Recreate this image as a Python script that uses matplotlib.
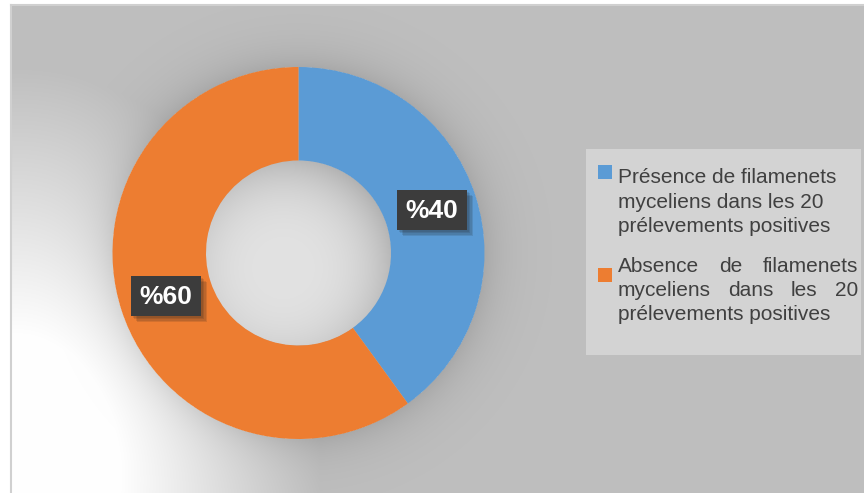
import numpy as np
import matplotlib
matplotlib.use("Agg")
import matplotlib.pyplot as plt
from matplotlib.patches import Rectangle
from matplotlib import patheffects as pe

plt.rcParams['font.family'] = ['Liberation Sans', 'DejaVu Sans']

W, H = 864, 493
shares = [40, 60]
pct_labels = ["%40", "%60"]
colors = ["#5b9bd5", "#ed7d31"]
legend_lines = [
    ["Présence de filamenets", "myceliens dans les 20", "prélevements positives"],
    ["Absence de filamenets", "myceliens dans les 20", "prélevements positives"],
]

CX, CY, R_OUT, R_IN = 298.5, 253, 186, 92.5   # donut geometry, px from top-left

fig = plt.figure(figsize=(W / 100, H / 100), dpi=100)
fig.patch.set_facecolor("white")

def fx(x): return x / W
def fy(y): return 1 - y / H

# ---- chart area background: gray with a white glow bottom-left and a soft halo ----
x0, y0 = 11, 5
yy, xx = np.mgrid[y0:H, x0:W].astype(float) + 0.5
bg = np.full(xx.shape, 191.0)
d = np.hypot((xx - 20) / 300, (yy - 470) / 400)
bg += 64 * np.clip(1.5 * (1 - d), 0, 1)
r = np.hypot(xx - CX, yy - CY)
halo = np.where(r > R_OUT, 22 * np.exp(-(r - R_OUT) / 22), 0)
bg -= halo
hole = r < R_IN
rh = np.hypot(xx - CX + 15, yy - CY - 15) / R_IN
bg[hole] = (226 - 26 * np.clip(rh, 0, 1.3) ** 3)[hole]
bg = np.clip(bg, 0, 255) / 255
bax = fig.add_axes([fx(x0), 0, fx(W - x0), fy(y0)])
bax.imshow(np.dstack([bg, bg, bg]), aspect="auto", interpolation="bilinear",
           extent=[0, 1, 0, 1])
bax.set_axis_off()
# light frame on left and top edges
fig.add_artist(plt.Line2D([fx(x0), fx(x0)], [0, fy(y0)], color="#d0d0d0", lw=1.5))
fig.add_artist(plt.Line2D([fx(x0), 1], [fy(y0), fy(y0)], color="#d0d0d0", lw=1.5))

# ---- donut ----
ax = fig.add_axes([fx(CX - R_OUT), fy(CY + R_OUT), fx(2 * R_OUT), 2 * R_OUT / H])
ax.pie(shares, colors=colors, startangle=90, counterclock=False, radius=1,
       wedgeprops=dict(width=1 - R_IN / R_OUT, linewidth=0))
ax.set_xlim(-1, 1); ax.set_ylim(-1, 1); ax.set_aspect("auto")
ax.set_axis_off()

# ---- percentage tags (soft drop shadow built from stacked offsets) ----
tag_centers = [(432, 210), (166, 296)]
soft_shadow = [pe.SimplePatchShadow(offset=(o, -o), alpha=0.13, shadow_rgbFace="#202020")
               for o in (4.5, 3.5, 2.5, 1.5)]
for lab, (tx, ty) in zip(pct_labels, tag_centers):
    box = Rectangle((fx(tx - 35), fy(ty + 20)), fx(70), 40 / H, transform=fig.transFigure,
                    facecolor="#3c3c3c", edgecolor="none", zorder=5)
    box.set_path_effects(soft_shadow + [pe.Normal()])
    fig.add_artist(box)
    fig.text(fx(tx), fy(ty + 1), lab, color="white", fontsize=19, fontweight="bold",
             ha="center", va="center", zorder=6)

# ---- legend ----
fig.add_artist(Rectangle((fx(586), fy(355)), fx(861 - 586), (355 - 149) / H,
                         transform=fig.transFigure, facecolor="#d3d3d3", edgecolor="none"))
marker_tops = [165, 268]
line_ys = [[177, 203, 227], [266, 291, 315]]
justify = [False, True]
TX0, TX1 = 618, 858
fig.canvas.draw()
rend = fig.canvas.get_renderer()
for col, mt, lines, ys, just in zip(colors, marker_tops, legend_lines, line_ys, justify):
    fig.add_artist(Rectangle((fx(598), fy(mt + 14)), fx(14), 14 / H,
                             transform=fig.transFigure, facecolor=col, edgecolor="none"))
    for k, (line, ly) in enumerate(zip(lines, ys)):
        if not just or k == len(lines) - 1:
            fig.text(fx(TX0), fy(ly), line, fontsize=15, color="#404040", ha="left", va="center")
            continue
        words = line.split()
        widths = []
        for w in words:
            t = fig.text(0, 0, w, fontsize=15)
            widths.append(t.get_window_extent(rend).width)
            t.remove()
        gap = (TX1 - TX0 - sum(widths)) / (len(words) - 1)
        xpos = TX0
        for w, wd in zip(words, widths):
            fig.text(fx(xpos), fy(ly), w, fontsize=15, color="#404040", ha="left", va="center")
            xpos += wd + gap

fig.savefig("out.png", dpi=100)
